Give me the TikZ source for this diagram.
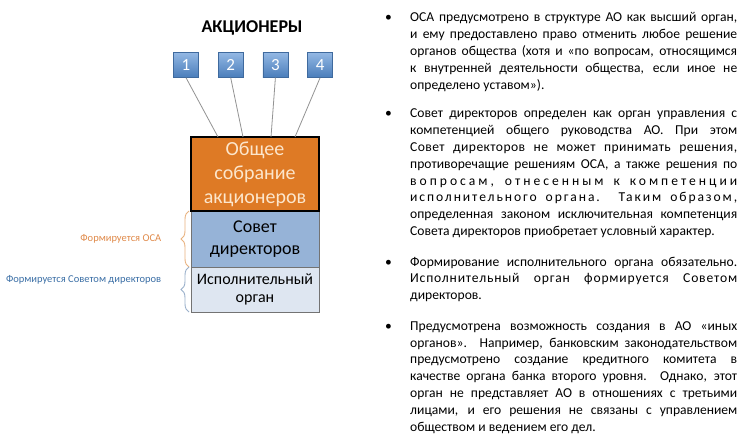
\documentclass[tikz,border=0pt]{standalone}
\usepackage{fontspec}
\setmainfont{Carlito}
\usetikzlibrary{positioning,decorations.pathreplacing}
\definecolor{numtop}{HTML}{93B8E4}
\definecolor{numbot}{HTML}{4A7DBA}
\definecolor{numedge}{HTML}{3F6A9E}
\definecolor{osaorange}{HTML}{DE7A25}
\definecolor{osatext}{HTML}{FCE6CC}
\definecolor{sovetblue}{HTML}{96B3D7}
\definecolor{isplight}{HTML}{DEE6F1}
\definecolor{tan}{HTML}{E9B27F}
\definecolor{labtan}{HTML}{E08A4A}
\definecolor{bluebrace}{HTML}{9AB0CB}
\definecolor{labblue}{HTML}{3B6FA6}
\tolerance=10000
\hyphenpenalty=10000
\newcommand{\spaced}[2]{{\addfontfeature{LetterSpace=#1}#2}}
\begin{document}
\begin{tikzpicture}[x=1pt, y=1pt, node distance=44.7pt,
    num/.style={draw=numedge, top color=numtop, bottom color=numbot, text=white,
      minimum size=25pt, inner sep=0pt, font=\fontsize{17}{17}\selectfont},
    organ/.style={minimum width=128pt, inner sep=0pt, outer sep=0pt, align=center},
    wire/.style={draw=gray!85, line width=0.8pt},
    brace/.style={decorate, decoration={brace, amplitude=8pt}, line width=0.9pt},
    para/.style={text width=327pt, align=justify, inner sep=0pt, anchor=north west,
      font=\fontsize{13.6}{16.9}\selectfont},
    bulpt/.style={inner sep=0pt, anchor=base west, font=\fontsize{13.6}{16.9}\selectfont}]
  \useasboundingbox[fill=white] (0,0) rectangle (746,-438);
  % shareholders
  \node[font=\fontsize{18}{18}\selectfont\bfseries] (title) at (252,-28) {АКЦИОНЕРЫ};
  \node[num]             (s1) at (186,-65) {1};
  \node[num, right of=s1] (s2) {2};
  \node[num, right of=s2] (s3) {3};
  \node[num, right of=s3] (s4) {4};
  % organs
  \node[organ, fill=osaorange, draw=black, line width=1.5pt, minimum height=74pt,
    text=osatext, font=\fontsize{20}{24}\selectfont] (osa) at (255,-174) {Общее\\собрание\\акционеров};
  \node[organ, fill=sovetblue, draw=black!55, minimum height=56pt, below=0pt of osa,
    font=\fontsize{18}{22}\selectfont] (sovet) {Совет\\директоров};
  \node[organ, fill=isplight, draw=black!55, minimum height=45pt, below=0pt of sovet,
    font=\fontsize{16}{18}\selectfont] (isp) {Исполнительный\\орган};
  \draw[black, line width=1.5pt] (osa.north west) rectangle (osa.south east);
  \coordinate (in1) at ([xshift=27pt]osa.north west);
  \coordinate (in2) at ([xshift=52pt]osa.north west);
  \coordinate (in3) at ([xshift=80pt]osa.north west);
  \coordinate (in4) at ([xshift=104pt]osa.north west);
  \draw[wire] (s1.south) -- (in1);
  \draw[wire] (s2.south) -- (in2);
  \draw[wire] (s3.south) -- (in3);
  \draw[wire] (s4.south) -- (in4);
  % braces
  \draw[brace, draw=tan] ([xshift=-2pt]sovet.south west) -- ([xshift=-2pt]sovet.north west)
    node[midway, left=24pt, text=labtan, font=\fontsize{10.5}{12}\selectfont] (f1) {Формируется ОСА};
  \draw[brace, draw=bluebrace] ([xshift=-2pt]isp.south west) -- ([xshift=-2pt]isp.north west)
    node[midway, left=24pt, yshift=10pt, text=labblue, font=\fontsize{10.5}{12}\selectfont] (f2) {Формируется Советом директоров};
  % text
  \node[para] (p1) at (410,-9.5) {\strut ОСА предусмотрено в структуре АО как высший орган,\linebreak
    и ему предоставлено право отменить любое решение\linebreak
    органов общества (хотя и «по вопросам, относящимся\linebreak
    к внутренней деятельности общества, если иное не\linebreak
    определено уставом»).\strut};
  \node[para, below=11pt of p1] (p2) {\strut Совет директоров определен как орган управления с\linebreak
    компетенцией общего руководства АО. При этом\linebreak
    \spaced{3}{Совет директоров не может принимать решения,}\linebreak
    противоречащие решениям ОСА, а также решения по\linebreak
    \spaced{22}{вопросам, отнесенным к компетенции}\linebreak
    \spaced{14}{исполнительного органа. Таким образом,}\linebreak
    определенная законом исключительная компетенция\linebreak
    Совета директоров приобретает условный характер.\strut};
  \node[para, below=13pt of p2] (p3) {\strut Формирование исполнительного органа обязательно.\linebreak
    \spaced{6}{Исполнительный орган формируется Советом}\linebreak
    директоров.\strut};
  \node[para, below=13pt of p3] (p4) {\strut Предусмотрена возможность создания в АО «иных\linebreak
    органов». Например, банковским законодательством\linebreak
    предусмотрено создание кредитного комитета в\linebreak
    качестве органа банка второго уровня. Однако, этот\linebreak
    орган не представляет АО в отношениях с третьими\linebreak
    лицами, и его решения не связаны с управлением\linebreak
    обществом и ведением его дел.\strut};
  \node[bulpt] (b1) at ([xshift=-25pt]p1.base west) {•};
  \node[bulpt] (b2) at ([xshift=-25pt]p2.base west) {•};
  \node[bulpt] (b3) at ([xshift=-25pt]p3.base west) {•};
  \node[bulpt] (b4) at ([xshift=-25pt]p4.base west) {•};
\end{tikzpicture}
\end{document}
